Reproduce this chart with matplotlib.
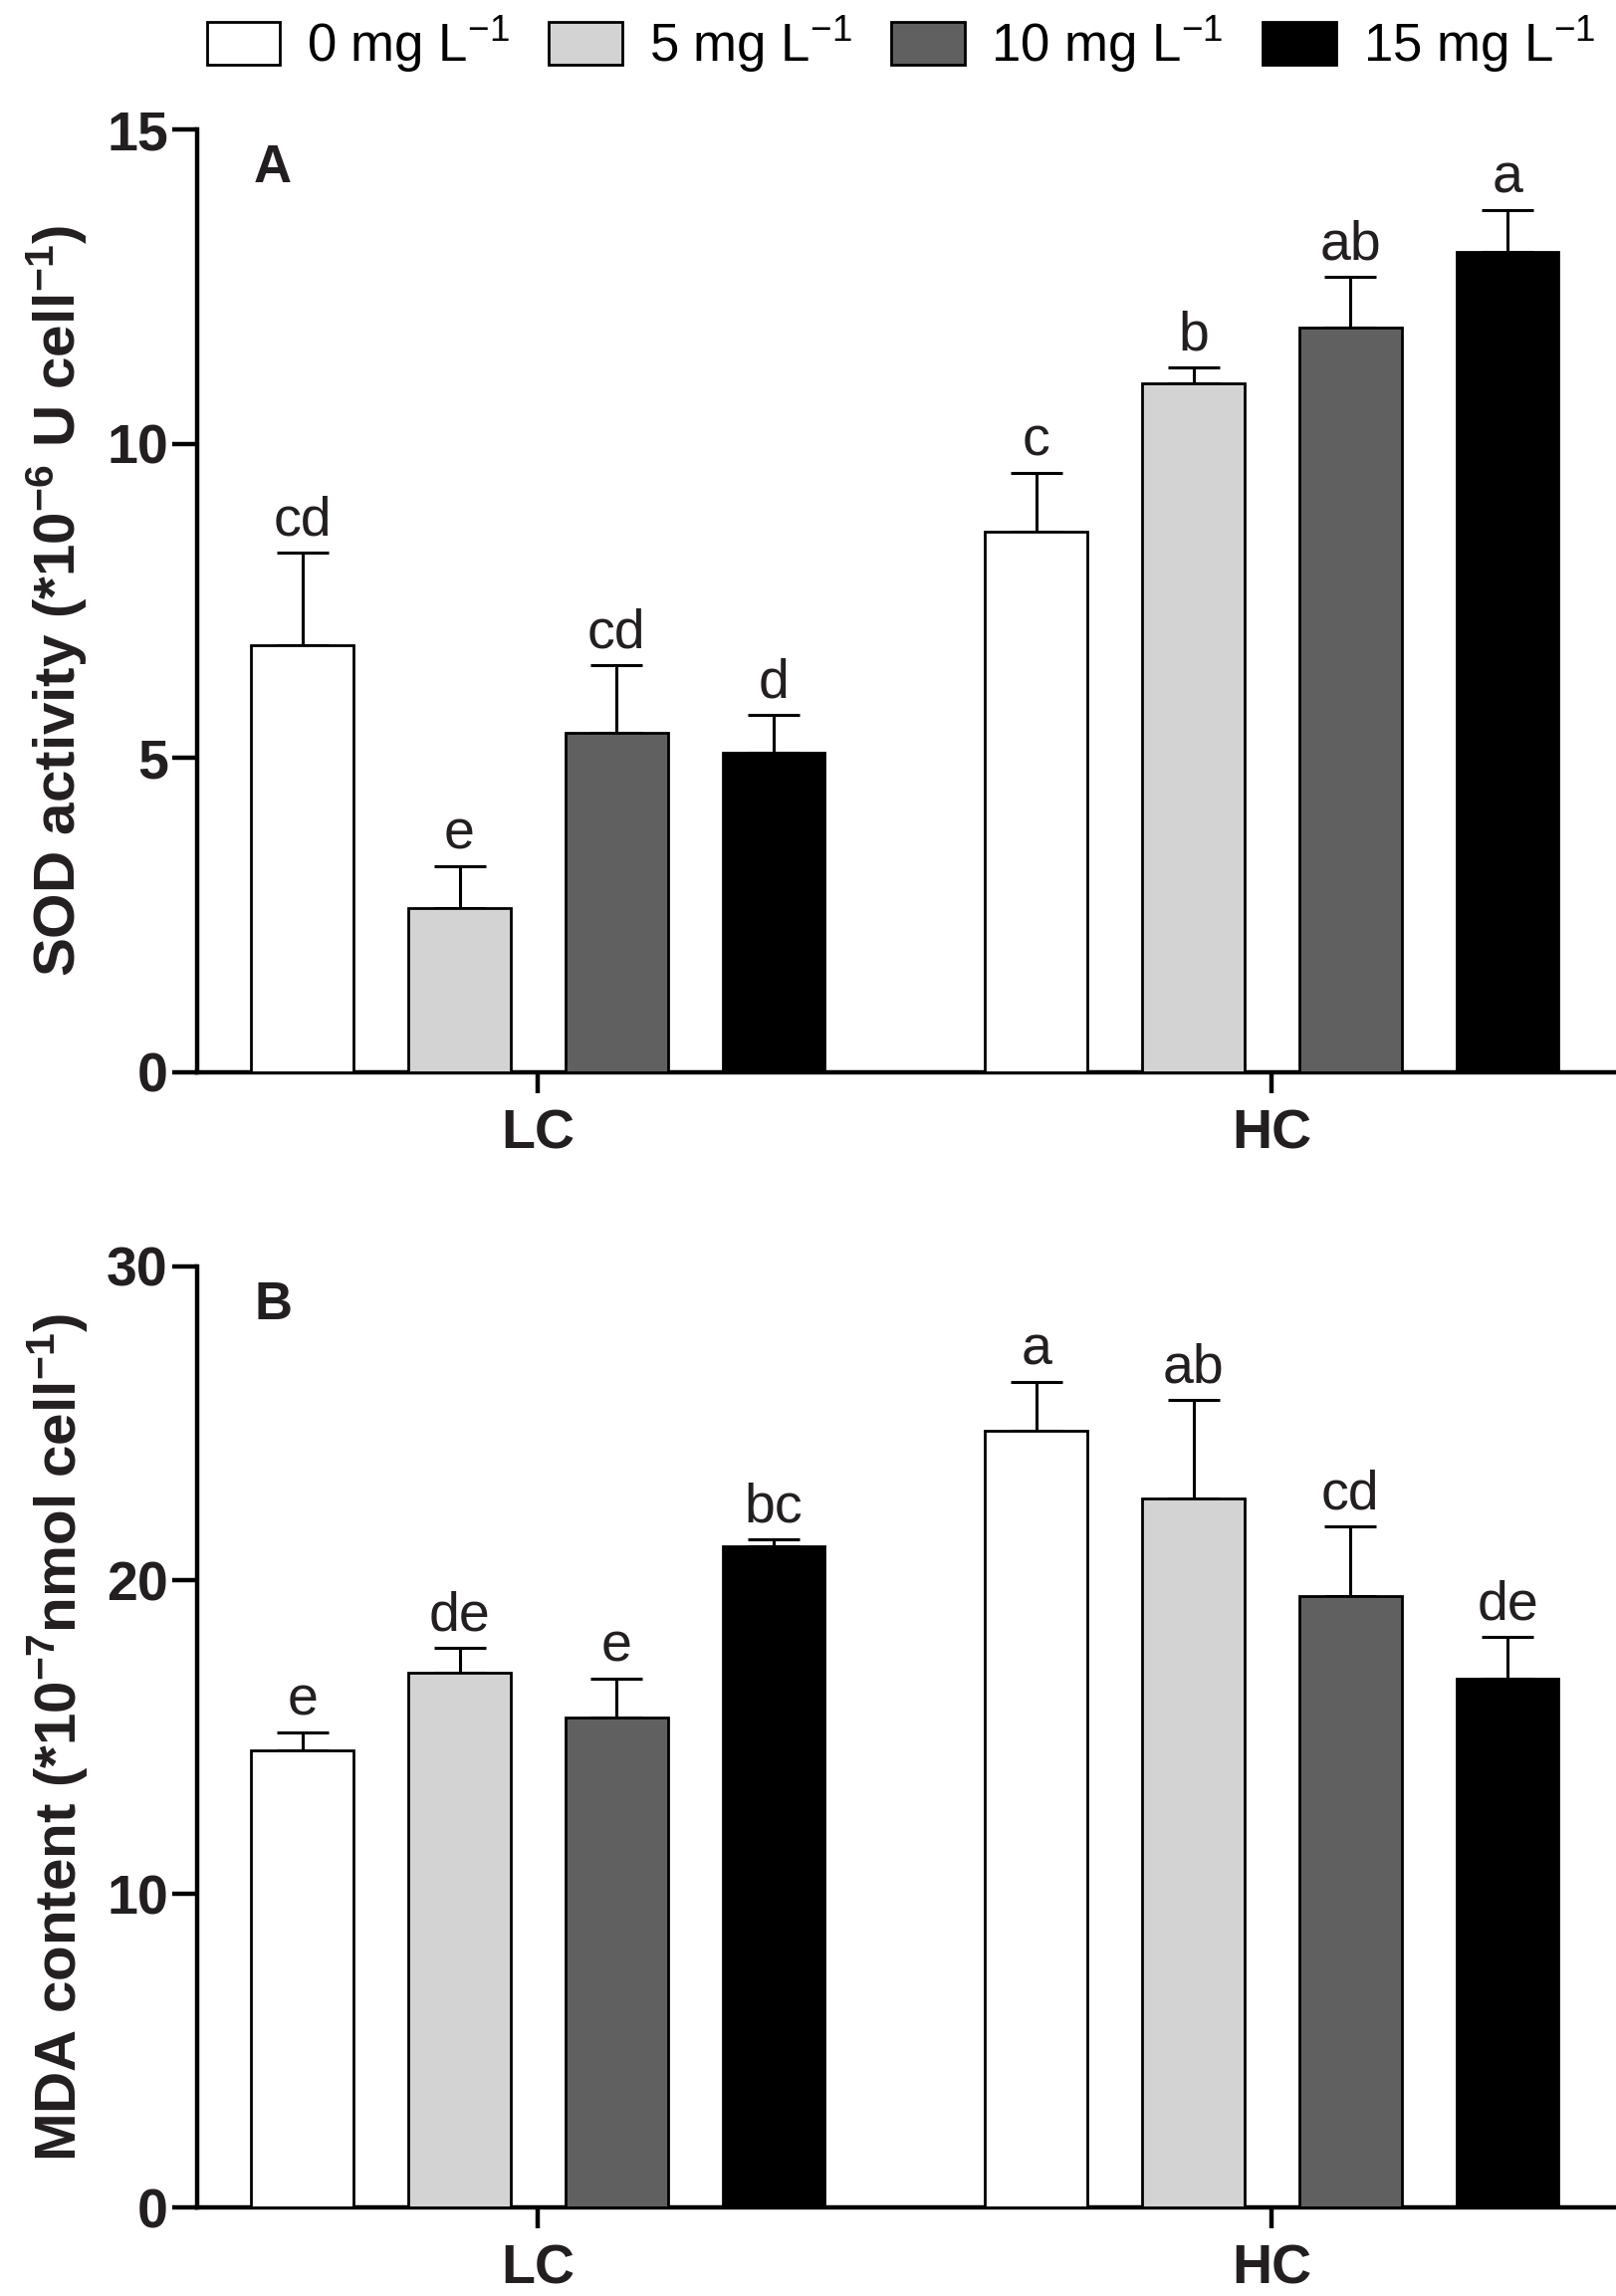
import numpy as np
import matplotlib
matplotlib.use('Agg')
import matplotlib.pyplot as plt
from matplotlib.patches import Patch

plt.rcParams['font.family'] = ['Liberation Sans', 'DejaVu Sans']
plt.rcParams['mathtext.default'] = 'regular'

groups = ['LC', 'HC']
doses = ['0 mg L$^{-1}$', '5 mg L$^{-1}$', '10 mg L$^{-1}$', '15 mg L$^{-1}$']
colors = ['#ffffff', '#d3d3d3', '#606060', '#000000']

# SOD activity, rows = dose, cols = LC, HC
sod_mean = [[6.80, 8.60], [2.62, 10.96], [5.40, 11.85], [5.09, 13.06]]
sod_err = [[1.47, 0.93], [0.65, 0.25], [1.07, 0.81], [0.59, 0.65]]
sod_letters = [['cd', 'c'], ['e', 'b'], ['cd', 'ab'], ['d', 'a']]

mda_mean = [[14.58, 24.77], [17.06, 22.62], [15.61, 19.49], [21.07, 16.87]]
mda_err = [[0.56, 1.54], [0.79, 3.13], [1.26, 2.24], [0.24, 1.31]]
mda_letters = [['e', 'a'], ['de', 'ab'], ['e', 'cd'], ['bc', 'de']]

txt = '#231f20'
group_x = np.array([0.0, 4.67])
width = 0.65


def panel(ax, means, errs, letters, ymax, step, ylabel, tag):
    for i in range(4):
        xs = group_x + i
        ax.bar(xs, means[i], width, color=colors[i], edgecolor='black',
               linewidth=2, zorder=3)
        ax.errorbar(xs, means[i], yerr=[np.zeros(2), errs[i]], fmt='none',
                    ecolor='black', elinewidth=2.2, capsize=19, capthick=2.2,
                    zorder=2)
        for j in range(2):
            ax.annotate(letters[i][j], (xs[j], means[i][j] + errs[i][j]),
                        xytext=(0, 4), textcoords='offset points',
                        ha='center', va='bottom', fontsize=40, color=txt)
    ax.set_xlim(-0.67, 8.36)
    ax.set_ylim(0, ymax)
    ax.set_yticks(np.arange(0, ymax + 0.1, step))
    ax.set_xticks(group_x + 1.5)
    ax.set_xticklabels(groups)
    for s in ['top', 'right']:
        ax.spines[s].set_visible(False)
    for s in ['left', 'bottom']:
        ax.spines[s].set_linewidth(3.2)
    ax.tick_params(axis='y', length=18, width=3.2, labelsize=40, colors='black',
                   labelcolor=txt, pad=3)
    ax.tick_params(axis='x', length=15, width=3.2, labelsize=40, colors='black',
                   labelcolor=txt, pad=11)
    for lab in ax.get_xticklabels() + ax.get_yticklabels():
        lab.set_fontweight('bold')
    ax.set_ylabel(ylabel, fontsize=42, fontweight='bold', color=txt, labelpad=12)
    ax.text(0.04, 0.985, tag, transform=ax.transAxes, fontsize=38,
            fontweight='bold', va='top', ha='left', color=txt)


fig = plt.figure(figsize=(16.23, 23.06), dpi=100)
ax1 = fig.add_axes([0.122, 0.533, 0.878, 0.4106])
ax2 = fig.add_axes([0.122, 0.0385, 0.878, 0.4099])

panel(ax1, sod_mean, sod_err, sod_letters, 15, 5,
      r'SOD activity (*10$^{-6}$ U cell$^{-1}$)', 'A')
panel(ax2, mda_mean, mda_err, mda_letters, 30, 10,
      r'MDA content (*10$^{-7}$nmol cell$^{-1}$)', 'B')

handles = [Patch(facecolor=c, edgecolor='black', linewidth=2) for c in colors]
fig.legend(handles, doses, loc='upper right', bbox_to_anchor=(1.0, 1.003),
           ncol=4, frameon=False, fontsize=38, handlelength=1.4,
           handleheight=0.85, handletextpad=0.5, columnspacing=0.75,
           borderaxespad=0.0)

fig.savefig('out.png', dpi=100)
